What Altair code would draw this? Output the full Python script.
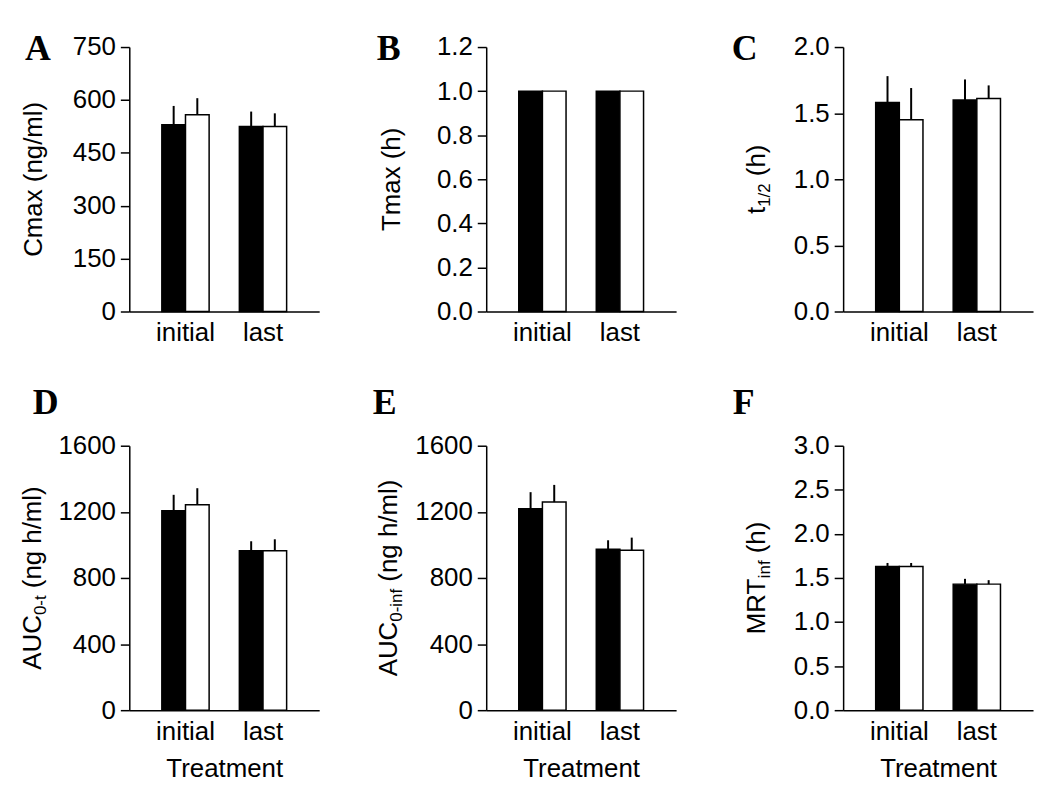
import altair as alt
import pandas as pd

# ---------------- data ----------------
groups = ["initial", "last"]
series = ["black", "white"]

cmax_black = [530, 525]
cmax_black_err = [53, 42]
cmax_white = [558, 525]
cmax_white_err = [47, 37]

tmax_black = [1.0, 1.0]
tmax_black_err = [0.0, 0.0]
tmax_white = [1.0, 1.0]
tmax_white_err = [0.0, 0.0]

thalf_black = [1.58, 1.60]
thalf_black_err = [0.20, 0.155]
thalf_white = [1.45, 1.61]
thalf_white_err = [0.24, 0.10]

auct_black = [1206, 964]
auct_black_err = [97, 58]
auct_white = [1243, 964]
auct_white_err = [100, 70]

aucinf_black = [1219, 974]
aucinf_black_err = [100, 54]
aucinf_white = [1259, 968]
aucinf_white_err = [104, 76]

mrt_black = [1.63, 1.43]
mrt_black_err = [0.04, 0.06]
mrt_white = [1.63, 1.43]
mrt_white_err = [0.04, 0.045]

ticks_cmax = [0, 150, 300, 450, 600, 750]
ticks_tmax = [0.0, 0.2, 0.4, 0.6, 0.8, 1.0, 1.2]
ticks_thalf = [0.0, 0.5, 1.0, 1.5, 2.0]
ticks_auc = [0, 400, 800, 1200, 1600]
ticks_mrt = [0.0, 0.5, 1.0, 1.5, 2.0, 2.5, 3.0]

# ---------------- layout constants ----------------
W, H = 191, 266
FONT = "Liberation Sans"
FS = 26
SUB_FS = 17

CW = {' ': 278, '(': 333, ')': 333, '/': 278, '-': 333, '.': 278,
      'A': 667, 'C': 722, 'M': 833, 'R': 722, 'T': 611, 'U': 722,
      'a': 556, 'c': 500, 'e': 556, 'f': 278, 'g': 556, 'h': 556, 'i': 222,
      'l': 222, 'm': 833, 'n': 556, 't': 278, 'x': 500}


def text_width(s, fs):
    return sum(CW.get(ch, 556) for ch in s) / 1000.0 * fs


def make_df(black, black_err, white, white_err):
    rows = []
    for i, g in enumerate(groups):
        rows.append({"group": g, "series": "black", "mean": black[i], "upper": black[i] + black_err[i]})
        rows.append({"group": g, "series": "white", "mean": white[i], "upper": white[i] + white_err[i]})
    return pd.DataFrame(rows)


def panel(letter, black, black_err, white, white_err, ticks, fmt,
          title_parts, title_x, letter_x, letter_y, bottom):
    df = make_df(black, black_err, white, white_err)
    x_enc = alt.X("group:N", sort=groups,
                  scale=alt.Scale(paddingInner=0.39, paddingOuter=0.42),
                  axis=alt.Axis(labelAngle=0, ticks=False, tickSize=0, labelPadding=8,
                                title="Treatment" if bottom else "", titlePadding=12))
    y_scale = alt.Scale(domain=[ticks[0], ticks[-1]], nice=False)
    y_enc = alt.Y("mean:Q", scale=y_scale,
                  axis=alt.Axis(values=ticks, format=fmt, tickSize=9, labelPadding=5,
                                title=""))
    xo = alt.XOffset("series:N", sort=series,
                     scale=alt.Scale(domain=series, paddingInner=0, paddingOuter=0))
    base = alt.Chart(df)
    bars = base.mark_bar(stroke="black", strokeWidth=1.5).encode(
        x=x_enc, xOffset=xo, y=y_enc,
        fill=alt.Fill("series:N", scale=alt.Scale(domain=series, range=["#000000", "#ffffff"]),
                      legend=None),
    )
    err = base.mark_rule(color="black", strokeWidth=2).encode(
        x=alt.X("group:N", sort=groups), xOffset=alt.XOffset("series:N", sort=series),
        y=alt.Y("mean:Q"), y2="upper:Q",
    )
    layers = [bars, err]

    # y-axis title built from pieces (for subscripts)
    total = sum(text_width(t, SUB_FS if sub else FS) for t, sub in title_parts)
    cur = -total / 2.0
    for t, sub in title_parts:
        fs = SUB_FS if sub else FS
        lead = len(t) - len(t.lstrip(" "))
        shown = t.lstrip(" ")
        layers.append(
            alt.Chart(pd.DataFrame({"t": [shown]})).mark_text(
                text=shown, font=FONT, fontSize=fs, angle=270, align="left",
                baseline="alphabetic", dx=cur + text_width(" " * lead, fs),
                dy=5 if sub else 0, color="black"
            ).encode(x=alt.value(title_x), y=alt.value(H / 2.0))
        )
        cur += text_width(t, fs)

    # panel letter
    layers.append(
        alt.Chart(pd.DataFrame({"t": [letter]})).mark_text(
            text=letter, font="Liberation Serif", fontWeight="bold", fontSize=36,
            align="center", baseline="alphabetic", color="black"
        ).encode(x=alt.value(letter_x), y=alt.value(letter_y))
    )
    return alt.layer(*layers).properties(width=W, height=H)


pA = panel("A", cmax_black, cmax_black_err, cmax_white, cmax_white_err, ticks_cmax, "d",
           [("Cmax (ng/ml)", False)], -88, -92, 13, False)
pB = panel("B", tmax_black, tmax_black_err, tmax_white, tmax_white_err, ticks_tmax, ".1f",
           [("Tmax (h)", False)], -87, -98, 13, False)
pC = panel("C", thalf_black, thalf_black_err, thalf_white, thalf_white_err, ticks_thalf, ".1f",
           [("t", False), ("1/2", True), (" (h)", False)], -79, -99, 13, False)
pD = panel("D", auct_black, auct_black_err, auct_white, auct_white_err, ticks_auc, "d",
           [("AUC", False), ("0-t", True), (" (ng h/ml)", False)], -89, -84, -32, True)
pE = panel("E", aucinf_black, aucinf_black_err, aucinf_white, aucinf_white_err, ticks_auc, "d",
           [("AUC", False), ("0-inf", True), (" (ng h/ml)", False)], -90, -102, -32, True)
pF = panel("F", mrt_black, mrt_black_err, mrt_white, mrt_white_err, ticks_mrt, ".1f",
           [("MRT", False), ("inf", True), (" (h)", False)], -79, -100, -32, True)

chart = alt.concat(
    pA, pB, pC, pD, pE, pF, columns=3,
    spacing={"row": 135, "column": 168}, bounds="flush",
).properties(
    padding={"left": 12, "top": 21, "right": 5, "bottom": 5},
    background="white",
).configure_view(strokeWidth=0).configure_axis(
    labelFont=FONT, labelFontSize=FS, labelColor="black",
    titleFont=FONT, titleFontSize=FS, titleColor="black", titleFontWeight="normal",
    domainColor="black", domainWidth=1.5, tickColor="black", tickWidth=1.5,
    grid=False,
)

chart.save("out.html", embed_options={"renderer": "svg", "actions": False})
